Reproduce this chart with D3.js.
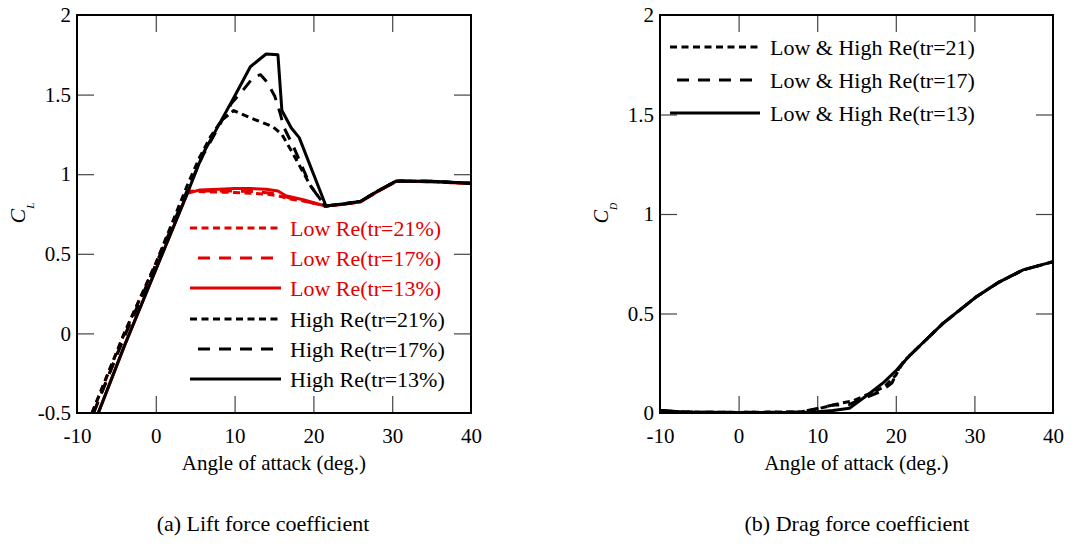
<!DOCTYPE html>
<html>
<head>
<meta charset="utf-8">
<script src="https://cdn.jsdelivr.net/npm/d3@7"></script>
<style>
  body { margin: 0; background: #fff; }
  svg { display: block; }
  text { font-family: "Liberation Serif", "Times New Roman", serif; fill: #000; }
</style>
</head>
<body>
<svg id="chart" width="1072" height="545"></svg>
<script>
// ---- Lift coefficient, high Reynolds number ----
const liftHigh21X = [-8.1, -4, 0, 4, 5.5, 7, 8.4, 9.9, 12.2, 14.8, 16, 17.4, 19.6, 21.5, 24, 26, 28, 30.5, 35, 40];
const liftHigh21Y = [-0.5, 0.0, 0.44, 0.93, 1.10, 1.24, 1.34, 1.40, 1.35, 1.30, 1.25, 1.13, 0.93, 0.80, 0.815, 0.83, 0.89, 0.957, 0.955, 0.943];
const liftHigh17X = [-7.9, -4, 0, 4, 6, 8, 9.6, 11.1, 12.4, 13.3, 14.1, 15.1, 15.8, 16.2, 17.5, 19.6, 21.5, 24, 26, 28, 30.5, 35, 40];
const liftHigh17Y = [-0.5, -0.02, 0.43, 0.90, 1.12, 1.30, 1.445, 1.53, 1.61, 1.625, 1.58, 1.49, 1.38, 1.30, 1.17, 0.93, 0.80, 0.815, 0.83, 0.89, 0.957, 0.955, 0.943];
const liftHigh13X = [-7.3, -4, 0, 4, 6, 8, 10, 12, 14, 15.5, 16, 17.2, 18.2, 21.6, 24, 26, 28, 30.5, 35, 40];
const liftHigh13Y = [-0.5, -0.08, 0.40, 0.88, 1.13, 1.31, 1.49, 1.675, 1.755, 1.75, 1.40, 1.29, 1.23, 0.80, 0.815, 0.83, 0.89, 0.957, 0.955, 0.943];

// ---- Lift coefficient, low Reynolds number ----
const liftLow21X = [-8.1, -4, 0, 4, 6, 10, 14, 15.5, 17, 19, 21.5, 24, 26, 28, 30.5, 35, 40];
const liftLow21Y = [-0.5, 0.0, 0.44, 0.895, 0.89, 0.885, 0.875, 0.865, 0.845, 0.83, 0.80, 0.812, 0.827, 0.887, 0.955, 0.953, 0.941];
const liftLow17X = [-7.9, -4, 0, 4, 6, 10, 13, 15.5, 17, 19, 21.5, 24, 26, 28, 30.5, 35, 40];
const liftLow17Y = [-0.5, -0.02, 0.43, 0.89, 0.895, 0.895, 0.89, 0.875, 0.85, 0.83, 0.80, 0.812, 0.827, 0.887, 0.955, 0.953, 0.941];
const liftLow13X = [-7.3, -4, 0, 4, 5.5, 8, 10, 12, 14, 15.5, 16.5, 18.7, 21.5, 24, 26, 28, 30.5, 35, 40];
const liftLow13Y = [-0.5, -0.08, 0.40, 0.88, 0.90, 0.905, 0.91, 0.91, 0.905, 0.895, 0.865, 0.84, 0.80, 0.812, 0.827, 0.887, 0.955, 0.953, 0.941];

// ---- Drag coefficient (low & high Reynolds number) ----
const drag21X = [-10, -7, 0, 8, 10, 12.9, 14.5, 16.5, 18.5, 20, 21, 21.8, 26, 30.25, 33, 36.2, 40];
const drag21Y = [0.012, 0.005, 0.003, 0.006, 0.02, 0.049, 0.06, 0.095, 0.13, 0.19, 0.26, 0.29, 0.45, 0.584, 0.655, 0.719, 0.76];
const drag17X = [-10, -7, 0, 8, 10.3, 12, 14, 16, 18, 19.5, 20.5, 21.8, 26, 30.25, 33, 36.2, 40];
const drag17Y = [0.012, 0.005, 0.003, 0.005, 0.025, 0.04, 0.042, 0.075, 0.107, 0.15, 0.233, 0.29, 0.45, 0.584, 0.655, 0.719, 0.76];
const drag13X = [-10, -7, 0, 8, 10, 12, 14.1, 16.7, 18.5, 20.1, 21.8, 26, 30.25, 33, 36.2, 40];
const drag13Y = [0.012, 0.005, 0.003, 0.003, 0.006, 0.013, 0.024, 0.099, 0.155, 0.216, 0.29, 0.45, 0.584, 0.655, 0.719, 0.76];

// ---- Ticks and labels ----
const xTickLabels = [-10, 0, 10, 20, 30, 40];
const xInnerTicks = [0, 10, 20, 30];
const liftTickLabels = [-0.5, 0, 0.5, 1, 1.5, 2];
const liftInnerTicks = [0, 0.5, 1, 1.5];
const dragTickLabels = [0, 0.5, 1, 1.5, 2];
const dragInnerTicks = [0.5, 1, 1.5];

const liftLegend = ["Low Re(tr=21%)", "Low Re(tr=17%)", "Low Re(tr=13%)", "High Re(tr=21%)", "High Re(tr=17%)", "High Re(tr=13%)"];
const dragLegend = ["Low & High Re(tr=21)", "Low & High Re(tr=17)", "Low & High Re(tr=13)"];

const RED = "#e30000";
const DOT = "7,4.5";
const DASH = "12,9";

const zip = (xs, ys) => xs.map((x, i) => [x, ys[i]]);
// plain hyphen for negative numbers
const numFmt = d => String(d);

const svg = d3.select("#chart");
svg.append("rect").attr("width", 1072).attr("height", 545).attr("fill", "#fff");

function panel(opts) {
  const { x0, x1, yDomain, tickLabels, innerTicks, clipId } = opts;
  const x = d3.scaleLinear([-10, 40], [x0, x1]);
  const y = d3.scaleLinear(yDomain, [413, 15]);
  const g = svg.append("g");

  g.append("clipPath").attr("id", clipId)
    .append("rect").attr("x", x0).attr("y", 15).attr("width", x1 - x0).attr("height", 398);

  // inner ticks on all four sides
  const tickStyle = sel => {
    sel.select(".domain").remove();
    sel.selectAll("line").attr("stroke", "#444").attr("stroke-width", 1.2);
  };
  g.append("g").attr("transform", `translate(0,413)`)
    .call(d3.axisBottom(x).tickValues(xInnerTicks).tickSize(-17).tickFormat(""))
    .call(tickStyle);
  g.append("g").attr("transform", `translate(0,15)`)
    .call(d3.axisTop(x).tickValues(xInnerTicks).tickSize(-17).tickFormat(""))
    .call(tickStyle);
  g.append("g").attr("transform", `translate(${x0},0)`)
    .call(d3.axisLeft(y).tickValues(innerTicks).tickSize(-17).tickFormat(""))
    .call(tickStyle);
  g.append("g").attr("transform", `translate(${x1},0)`)
    .call(d3.axisRight(y).tickValues(innerTicks).tickSize(-17).tickFormat(""))
    .call(tickStyle);

  // tick labels
  const xl = g.append("g").attr("transform", `translate(0,413)`)
    .call(d3.axisBottom(x).tickValues(xTickLabels).tickSize(0).tickPadding(15).tickFormat(numFmt));
  xl.select(".domain").remove();
  xl.selectAll("text").attr("font-size", 21).attr("font-family", "Liberation Serif");
  const yl = g.append("g").attr("transform", `translate(${x0},0)`)
    .call(d3.axisLeft(y).tickValues(tickLabels).tickSize(0).tickPadding(6).tickFormat(numFmt));
  yl.select(".domain").remove();
  yl.selectAll("text").attr("font-size", 21).attr("font-family", "Liberation Serif");

  // axis title
  g.append("text").attr("x", (x0 + x1) / 2).attr("y", 470)
    .attr("text-anchor", "middle").attr("font-size", 21)
    .text("Angle of attack (deg.)");

  return { g, x, y };
}

function drawLine(p, xs, ys, color, dash, clipId) {
  const line = d3.line().x(d => p.x(d[0])).y(d => p.y(d[1]));
  p.g.append("path")
    .attr("clip-path", `url(#${clipId})`)
    .attr("d", line(zip(xs, ys)))
    .attr("fill", "none").attr("stroke", color).attr("stroke-width", 3)
    .attr("stroke-linejoin", "round")
    .attr("stroke-dasharray", dash);
}

function frame(p, x0, x1) {
  p.g.append("rect").attr("x", x0).attr("y", 15).attr("width", x1 - x0).attr("height", 398)
    .attr("fill", "none").attr("stroke", "#000").attr("stroke-width", 2);
}

function legendRow(p, xa, xb, y, label, color, dash, tx) {
  p.g.append("line").attr("x1", xa).attr("x2", xb).attr("y1", y).attr("y2", y)
    .attr("stroke", color).attr("stroke-width", 3).attr("stroke-dasharray", dash);
  p.g.append("text").attr("x", tx).attr("y", y + 7.5).attr("font-size", 22)
    .attr("fill", color).style("fill", color).text(label);
}

// ===== (a) Lift =====
const lift = panel({
  x0: 77, x1: 471, yDomain: [-0.5, 2], tickLabels: liftTickLabels,
  innerTicks: liftInnerTicks, clipId: "clipL"
});
drawLine(lift, liftLow21X, liftLow21Y, RED, DOT, "clipL");
drawLine(lift, liftLow17X, liftLow17Y, RED, DASH, "clipL");
drawLine(lift, liftLow13X, liftLow13Y, RED, null, "clipL");
drawLine(lift, liftHigh21X, liftHigh21Y, "#000", DOT, "clipL");
drawLine(lift, liftHigh17X, liftHigh17Y, "#000", DASH, "clipL");
drawLine(lift, liftHigh13X, liftHigh13Y, "#000", null, "clipL");
frame(lift, 77, 471);

const liftRowsY = [228, 258, 288, 319, 349, 379];
const liftStyles = [[RED, DOT, 190, 280], [RED, DASH, 198, 273], [RED, null, 190, 281],
                    ["#000", DOT, 190, 280], ["#000", DASH, 198, 273], ["#000", null, 190, 281]];
liftLegend.forEach((lab, i) => {
  const [c, d, xa, xb] = liftStyles[i];
  legendRow(lift, xa, xb, liftRowsY[i], lab, c, d, 290);
});

// y-axis title C_L
const cl = lift.g.append("text").attr("transform", "translate(25,213) rotate(-90)")
  .attr("text-anchor", "middle").attr("font-style", "italic");
cl.append("tspan").attr("font-size", 22).text("C");
cl.append("tspan").attr("font-size", 11).attr("dy", 9).text("L");

// ===== (b) Drag =====
const drag = panel({
  x0: 660, x1: 1053, yDomain: [0, 2], tickLabels: dragTickLabels,
  innerTicks: dragInnerTicks, clipId: "clipR"
});
drawLine(drag, drag21X, drag21Y, "#000", DOT, "clipR");
drawLine(drag, drag17X, drag17Y, "#000", DASH, "clipR");
drawLine(drag, drag13X, drag13Y, "#000", null, "clipR");
frame(drag, 660, 1053);

const dragRowsY = [47, 80, 113];
const dragStyles = [[DOT, 670, 760], [DASH, 677, 753], [null, 670, 760]];
dragLegend.forEach((lab, i) => {
  const [d, xa, xb] = dragStyles[i];
  legendRow(drag, xa, xb, dragRowsY[i], lab, "#000", d, 770);
});

const cd = drag.g.append("text").attr("transform", "translate(608,213) rotate(-90)")
  .attr("text-anchor", "middle").attr("font-style", "italic");
cd.append("tspan").attr("font-size", 20).text("C");
cd.append("tspan").attr("font-size", 10).attr("dy", 9).text("D");

// ===== captions =====
svg.append("text").attr("x", 263).attr("y", 531).attr("text-anchor", "middle")
  .attr("font-size", 22).text("(a) Lift force coefficient");
svg.append("text").attr("x", 857).attr("y", 531).attr("text-anchor", "middle")
  .attr("font-size", 22).text("(b) Drag force coefficient");
</script>
</body>
</html>
